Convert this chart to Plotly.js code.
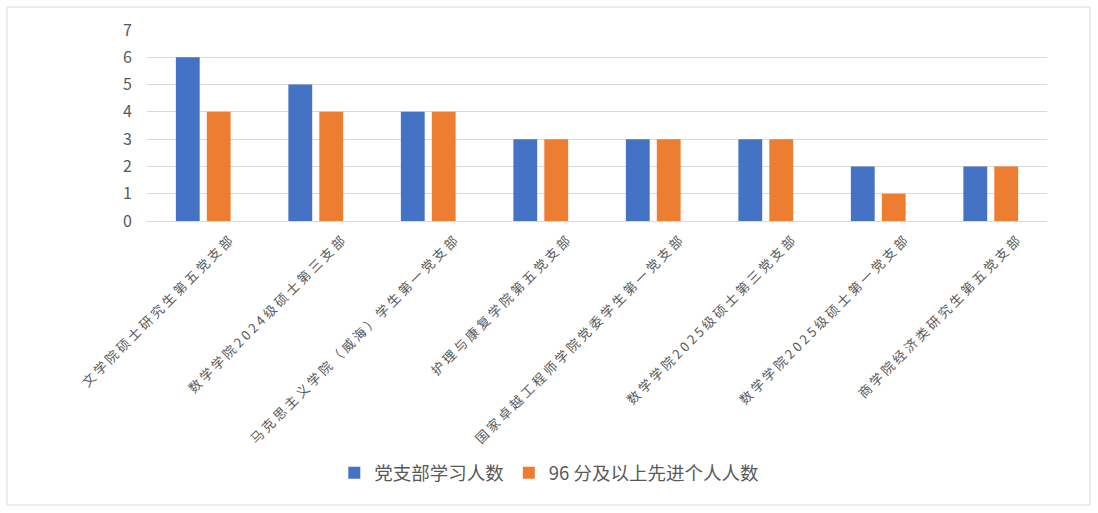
<!DOCTYPE html>
<html>
<head>
<meta charset="utf-8">
<script src="https://cdn.plot.ly/plotly-3.0.1.min.js"></script>
<style>
  body { margin: 0; background: #fff; }
  #chart { width: 1098px; height: 513px; }
  /* the category labels in the original are widely spaced */
  #chart .xtick text { letter-spacing: 3.1px; }
</style>
</head>
<body>
<div id="chart"></div>
<script>
'use strict';

const branches = [
    '文学院硕士研究生第五党支部',
    '数学学院2024级硕士第三支部',
    '马克思主义学院（威海）学生第一党支部',
    '护理与康复学院第五党支部',
    '国家卓越工程师学院党委学生第一党支部',
    '数学学院2025级硕士第三党支部',
    '数学学院2025级硕士第一党支部',
    '商学院经济类研究生第五党支部'
];
const studyCounts = [6, 5, 4, 3, 3, 3, 2, 2];
const advancedCounts = [4, 4, 4, 3, 3, 3, 1, 2];
const yTicks = [0, 1, 2, 3, 4, 5, 6, 7];

const font = '"Noto Sans CJK SC", "Noto Sans", sans-serif';

var study = {
    x: branches,
    y: studyCounts,
    type: 'bar',
    name: '党支部学习人数',
    marker: { color: '#4472C4' },
    hoverinfo: 'none'
};

var advanced = {
    x: branches,
    y: advancedCounts,
    type: 'bar',
    name: '96 分及以上先进个人人数',
    marker: { color: '#ED7D31' },
    hoverinfo: 'none'
};

var layout = {
    width: 1098,
    height: 513,
    margin: { l: 147, r: 51, t: 30, b: 292 },
    paper_bgcolor: '#fff',
    plot_bgcolor: '#fff',
    font: { family: font, color: '#595959' },
    barmode: 'group',
    bargap: 0.45,
    bargroupgap: 0.23,
    showlegend: true,
    legend: {
        orientation: 'h',
        x: 0.447,
        xanchor: 'center',
        y: -1.32,
        yanchor: 'middle',
        font: { size: 18.5, color: '#595959' },
        itemwidth: 30,
        traceorder: 'normal'
    },
    xaxis: {
        type: 'category',
        tickangle: -45,
        tickfont: { size: 13, color: '#595959' },
        ticklabelshift: 28,
        ticklabelstandoff: 4,
        showgrid: false,
        showline: true,
        linecolor: '#d9d9d9',
        ticks: '',
        automargin: false
    },
    yaxis: {
        range: [0, 7],
        tickvals: yTicks,
        ticktext: yTicks.map(String),
        tickfont: { size: 16, color: '#595959' },
        showgrid: true,
        gridcolor: '#d9d9d9',
        zeroline: true,
        zerolinecolor: '#d9d9d9',
        ticks: '',
        ticklabelstandoff: 14,
        automargin: false
    },
    shapes: [{
        type: 'rect',
        xref: 'paper',
        yref: 'paper',
        x0: -0.1556,
        x1: 1.0478,
        y0: -1.487,
        y1: 1.1204,
        line: { color: '#d9d9d9', width: 1 }
    }]
};

Plotly.newPlot('chart', [study, advanced], layout, { displayModeBar: false, staticPlot: true });
</script>
</body>
</html>
